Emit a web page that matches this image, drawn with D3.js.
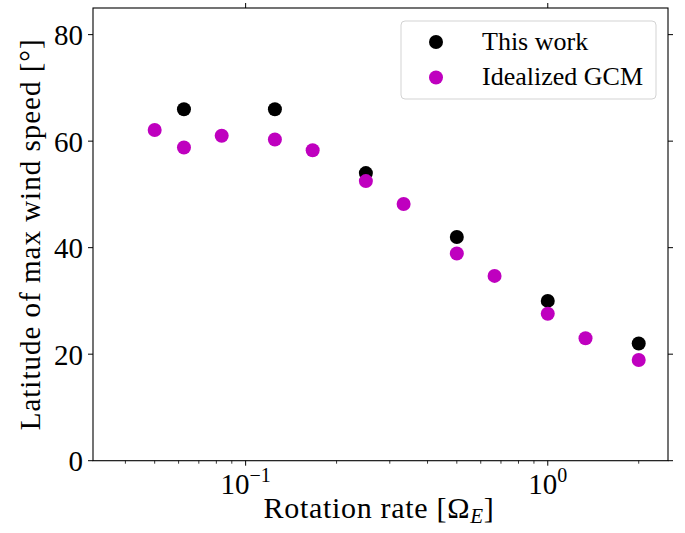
<!DOCTYPE html>
<html><head><meta charset="utf-8">
<script src="https://cdn.jsdelivr.net/npm/d3@7"></script>
<style>body{margin:0;background:#fff}</style>
</head><body>
<svg id="c" width="685" height="533"></svg>
<script>
const thisWorkX = [1/16, 1/8, 1/4, 1/2, 1, 2];
const thisWorkY = [66, 66, 54, 42, 30, 22];
const gcmX = [1/20, 1/16, 1/12, 1/8, 1/6, 1/4, 1/3, 1/2, 2/3, 1, 4/3, 2];
const gcmY = [62.1, 58.8, 61.0, 60.3, 58.3, 52.5, 48.2, 38.9, 34.7, 27.6, 23.0, 18.9];
const yTicks = [0, 20, 40, 60, 80];
const xMajor = [0.1, 1];
const seriesNames = ["This work", "Idealized GCM"];
const colors = ["#000000", "#bf00bf"];

const font = "'Liberation Serif', 'DejaVu Serif', serif";
const L = 93, R = 668, T = 8, B = 460.7;
const svg = d3.select("#c");
const x = d3.scaleLog().domain([1/32, 2.5]).range([L, R]);
const y = d3.scaleLinear().domain([0, 85]).range([B, T]);

// points
const series = [
  thisWorkX.map((v, i) => ({x: v, y: thisWorkY[i]})),
  gcmX.map((v, i) => ({x: v, y: gcmY[i]}))
];
series.forEach((s, k) => {
  svg.append("g").selectAll("circle").data(s).join("circle")
    .attr("cx", d => x(d.x)).attr("cy", d => y(d.y)).attr("r", 7)
    .attr("fill", colors[k]);
});

const g = svg.append("g").attr("stroke", "#000").attr("stroke-width", 1);
// frame
g.append("rect").attr("x", L).attr("y", T).attr("width", R - L).attr("height", B - T)
  .attr("fill", "none").attr("stroke-width", 1.1);

// y ticks left & right
yTicks.forEach(v => {
  g.append("line").attr("x1", L - 5).attr("x2", L).attr("y1", y(v)).attr("y2", y(v));
  g.append("line").attr("x1", R).attr("x2", R + 5).attr("y1", y(v)).attr("y2", y(v));
  svg.append("text").attr("x", L - 10).attr("y", y(v) + 10.5)
    .attr("text-anchor", "end").attr("font-family", font).attr("font-size", 29).text(v);
});

// x major ticks bottom & top
xMajor.forEach(v => {
  g.append("line").attr("x1", x(v)).attr("x2", x(v)).attr("y1", B).attr("y2", B + 5);
  g.append("line").attr("x1", x(v)).attr("x2", x(v)).attr("y1", T - 5).attr("y2", T);
  const e = Math.round(Math.log10(v));
  const t = svg.append("text").attr("x", x(v)).attr("y", 494)
    .attr("text-anchor", "middle").attr("font-family", font).attr("font-size", 29);
  t.append("tspan").text("10");
  t.append("tspan").attr("dy", -12).attr("font-size", 20).text(e === 0 ? "0" : "\u2212" + Math.abs(e));
});
// minor ticks bottom
x.ticks().filter(v => xMajor.every(m => Math.abs(m - v) > 1e-9))
  .filter(v => v >= x.domain()[0] && v <= x.domain()[1])
  .forEach(v => {
    g.append("line").attr("x1", x(v)).attr("x2", x(v)).attr("y1", B).attr("y2", B + 3).attr("stroke-width", 0.8);
  });

// axis labels
const xl = svg.append("text").attr("x", 379).attr("y", 518).attr("text-anchor", "middle")
  .attr("font-family", font).attr("font-size", 30).attr("letter-spacing", 0.7);
xl.append("tspan").text("Rotation rate [\u03A9");
xl.append("tspan").attr("font-style", "italic").attr("font-size", 21).attr("dy", 5).text("E");
xl.append("tspan").attr("dy", -5).text("]");

svg.append("text").attr("transform", `translate(40,${(T + B) / 2}) rotate(-90)`)
  .attr("text-anchor", "middle").attr("font-family", font).attr("font-size", 29)
  .attr("letter-spacing", 1).text("Latitude of max wind speed [\u00B0]");

// legend
const lg = svg.append("g");
lg.append("rect").attr("x", 401).attr("y", 21).attr("width", 255).attr("height", 78)
  .attr("rx", 4).attr("fill", "#fff").attr("fill-opacity", 0.8).attr("stroke", "#d3d3d3");
seriesNames.forEach((n, i) => {
  const cy = 42 + i * 35.5;
  lg.append("circle").attr("cx", 436).attr("cy", cy).attr("r", 7).attr("fill", colors[i]);
  lg.append("text").attr("x", 482).attr("y", cy + 7.5).attr("font-family", font)
    .attr("font-size", 26).text(n);
});
</script>
</body></html>
